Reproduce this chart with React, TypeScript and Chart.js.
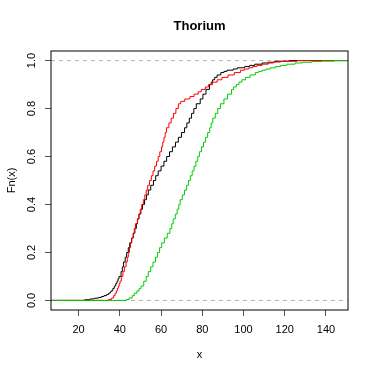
import React, { useEffect, useRef } from 'react';
import { Chart, registerables } from 'chart.js';

Chart.register(...registerables);

const TITLE = 'Thorium';
const X_LABEL = 'x';
const Y_LABEL = 'Fn(x)';
const X_TICKS = [20, 40, 60, 80, 100, 120, 140];
const Y_TICKS = [0, 0.2, 0.4, 0.6, 0.8, 1.0];
const Y_TICK_LABELS = ['0.0', '0.2', '0.4', '0.6', '0.8', '1.0'];
const X_RANGE = [6.6, 150.7];
const Y_RANGE = [-0.04, 1.04];
const REF_LEVELS = [0, 1];

const BLACK_X = [23, 25.5, 27.5, 29.5, 31, 32.3, 33.6, 34.6, 35.3, 35.8, 36.6, 37.3, 38, 38.6, 39.1, 39.6, 40.6, 41.2, 41.8, 42.6, 43.3, 44.1, 44.8, 45.7, 46.5, 47.3, 48.0, 48.6, 49.3, 50.2, 51.0, 52.0, 52.9, 53.8, 55.0, 56.3, 57.4, 58.6, 60.0, 61.4, 62.7, 64.1, 65.5, 67.0, 68.4, 69.9, 71.4, 72.5, 73.7, 74.8, 75.9, 77.1, 79.0, 80.3, 81.8, 83.5, 84.3, 85.0, 86.0, 87.2, 89.0, 90.5, 92.0, 95.0, 97.0, 100.5, 103.0, 105.5, 109.0, 112.0, 115.0, 122.0];
const BLACK_F = [0.003, 0.006, 0.009, 0.012, 0.016, 0.02, 0.025, 0.03, 0.035, 0.04, 0.05, 0.06, 0.07, 0.08, 0.09, 0.10, 0.12, 0.14, 0.16, 0.18, 0.20, 0.22, 0.24, 0.26, 0.28, 0.30, 0.32, 0.34, 0.36, 0.38, 0.40, 0.42, 0.44, 0.46, 0.48, 0.50, 0.52, 0.54, 0.56, 0.58, 0.60, 0.62, 0.64, 0.66, 0.68, 0.70, 0.72, 0.74, 0.76, 0.78, 0.80, 0.82, 0.84, 0.86, 0.88, 0.90, 0.91, 0.92, 0.93, 0.94, 0.95, 0.955, 0.96, 0.965, 0.97, 0.975, 0.98, 0.985, 0.99, 0.993, 0.997, 1.0];

const RED_X = [34.6, 36.0, 37.0, 37.7, 38.3, 38.8, 39.3, 39.7, 40.1, 40.7, 41.5, 42.2, 43.0, 43.6, 44.1, 44.7, 45.2, 45.8, 46.5, 47.0, 47.6, 48.5, 49.2, 49.9, 50.6, 51.4, 52.1, 52.8, 53.5, 54.4, 55.3, 56.1, 56.9, 57.8, 58.6, 59.4, 60.2, 60.8, 61.4, 62.0, 62.6, 63.8, 64.9, 66.0, 67.2, 68.4, 69.5, 71.5, 74.0, 76.0, 78.0, 79.5, 81.5, 83.0, 85.0, 87.2, 89.5, 92.5, 95.5, 98.5, 100.5, 102.5, 104.5, 106.5, 109.0, 112.0, 114.5, 118.0, 126.0];
const RED_F = [0.004, 0.01, 0.02, 0.03, 0.04, 0.05, 0.06, 0.07, 0.08, 0.10, 0.12, 0.14, 0.16, 0.18, 0.20, 0.22, 0.24, 0.26, 0.28, 0.30, 0.32, 0.34, 0.36, 0.38, 0.40, 0.42, 0.44, 0.46, 0.48, 0.50, 0.52, 0.54, 0.56, 0.58, 0.60, 0.62, 0.64, 0.66, 0.68, 0.70, 0.72, 0.74, 0.76, 0.78, 0.80, 0.82, 0.83, 0.84, 0.85, 0.86, 0.87, 0.88, 0.89, 0.90, 0.91, 0.92, 0.93, 0.94, 0.95, 0.96, 0.965, 0.97, 0.975, 0.98, 0.985, 0.99, 0.994, 0.997, 1.0];

const GREEN_X = [43.2, 44.5, 46.0, 47.0, 48.3, 49.4, 50.3, 51.6, 52.8, 53.8, 55.0, 56.1, 57.3, 58.3, 59.3, 60.3, 61.6, 63.0, 64.3, 65.2, 65.9, 66.9, 67.8, 68.6, 69.3, 70.3, 71.4, 72.4, 73.3, 74.2, 75.1, 76.0, 76.9, 77.8, 78.6, 79.6, 80.6, 81.6, 82.6, 83.6, 84.3, 85.1, 86.3, 87.5, 88.8, 90.5, 92.2, 94.2, 95.2, 96.5, 97.8, 99.2, 101.0, 103.2, 105.7, 107.3, 109.0, 111.0, 113.0, 115.5, 118.0, 121.0, 125.0, 128.5, 133.0, 138.0, 144.0];
const GREEN_F = [0.004, 0.01, 0.02, 0.03, 0.04, 0.05, 0.06, 0.08, 0.10, 0.12, 0.14, 0.16, 0.18, 0.20, 0.22, 0.24, 0.26, 0.28, 0.30, 0.32, 0.34, 0.36, 0.38, 0.40, 0.42, 0.44, 0.46, 0.48, 0.50, 0.52, 0.54, 0.56, 0.58, 0.60, 0.62, 0.64, 0.66, 0.68, 0.70, 0.72, 0.74, 0.76, 0.78, 0.80, 0.82, 0.84, 0.86, 0.88, 0.89, 0.90, 0.91, 0.92, 0.93, 0.94, 0.95, 0.955, 0.96, 0.965, 0.97, 0.975, 0.98, 0.985, 0.99, 0.993, 0.996, 0.998, 1.0];

const FONT_FAMILY = '"Liberation Sans", Arial, Helvetica, sans-serif';

function ecdfData(xs: number[], fs: number[]) {
  const pts = [{ x: X_RANGE[0], y: 0 }];
  xs.forEach((x, i) => pts.push({ x, y: fs[i] }));
  pts.push({ x: X_RANGE[1], y: 1 });
  return pts;
}

const boxAndYLabels = {
  id: 'boxAndYLabels',
  afterDraw(chart: any) {
    const { ctx, chartArea } = chart;
    const ys = chart.scales.y;
    ctx.save();
    ctx.strokeStyle = '#000';
    ctx.lineWidth = 1;
    ctx.strokeRect(chartArea.left, chartArea.top, chartArea.right - chartArea.left, chartArea.bottom - chartArea.top);
    ctx.fillStyle = '#000';
    ctx.font = '11px ' + FONT_FAMILY;
    ctx.textAlign = 'center';
    ctx.textBaseline = 'middle';
    Y_TICKS.forEach((v, i) => {
      const py = ys.getPixelForValue(v);
      ctx.save();
      ctx.translate(32, py);
      ctx.rotate(-Math.PI / 2);
      ctx.fillText(Y_TICK_LABELS[i], 0, 0);
      ctx.restore();
    });
    ctx.restore();
  },
};

export default function App() {
  const ref = useRef<HTMLCanvasElement>(null);
  useEffect(() => {
    if (!ref.current) return;
    const refDatasets = REF_LEVELS.map((lv) => ({
      data: [{ x: X_RANGE[0], y: lv }, { x: X_RANGE[1], y: lv }],
      borderColor: '#b3b3b3',
      borderWidth: 1,
      borderDash: [4, 4],
      pointRadius: 0,
      fill: false,
      order: 5,
    }));
    const chart = new Chart(ref.current, {
      type: 'line',
      data: {
        datasets: [
          ...refDatasets,
          { data: ecdfData(BLACK_X, BLACK_F), borderColor: '#000000', borderWidth: 1, pointRadius: 0, stepped: true, fill: false, order: 2 },
          { data: ecdfData(RED_X, RED_F), borderColor: '#FF0000', borderWidth: 1, pointRadius: 0, stepped: true, fill: false, order: 1 },
          { data: ecdfData(GREEN_X, GREEN_F), borderColor: '#00CD00', borderWidth: 1, pointRadius: 0, stepped: true, fill: false, order: 0 },
        ] as any,
      },
      options: {
        animation: false,
        responsive: false,
        devicePixelRatio: 1,
        layout: { padding: { left: 0, right: 26, top: 0, bottom: 0 } },
        plugins: {
          legend: { display: false },
          tooltip: { enabled: false },
          title: {
            display: true,
            fullSize: false,
            text: TITLE,
            color: '#000',
            font: { family: FONT_FAMILY, size: 13, weight: 'bold' },
            padding: { top: 19, bottom: 16.4 },
          },
        },
        scales: {
          x: {
            type: 'linear',
            min: X_RANGE[0],
            max: X_RANGE[1],
            afterBuildTicks: (s: any) => { s.ticks = X_TICKS.map((v) => ({ value: v })); },
            afterFit: (s: any) => { s.height = 64; },
            grid: { drawOnChartArea: false, drawTicks: true, tickLength: 6, color: '#555', lineWidth: 1 },
            border: { display: false },
            ticks: {
              color: '#000',
              padding: 7,
              maxRotation: 0,
              autoSkip: false,
              font: { family: FONT_FAMILY, size: 11 },
              callback: (v: any) => String(v),
            },
            title: {
              display: true,
              text: X_LABEL,
              color: '#000',
              font: { family: FONT_FAMILY, size: 11 },
              padding: { top: 0, bottom: 12.7 },
            },
          },
          y: {
            type: 'linear',
            min: Y_RANGE[0],
            max: Y_RANGE[1],
            afterBuildTicks: (s: any) => { s.ticks = Y_TICKS.map((v) => ({ value: v })); },
            afterFit: (s: any) => { s.width = 51; },
            grid: { drawOnChartArea: false, drawTicks: true, tickLength: 6, color: '#555', lineWidth: 1 },
            border: { display: false },
            ticks: { display: false },
            title: {
              display: true,
              text: Y_LABEL,
              color: '#000',
              font: { family: FONT_FAMILY, size: 11 },
              padding: { top: 5.1, bottom: 0 },
            },
          },
        },
      },
      plugins: [boxAndYLabels],
    } as any);
    return () => chart.destroy();
  }, []);
  return (
    <div style={{ position: 'fixed', left: 0, top: 0, width: 374, height: 374, background: '#fff' }}>
      <canvas ref={ref} width={374} height={374} style={{ display: 'block', width: 374, height: 374 }} />
    </div>
  );
}
